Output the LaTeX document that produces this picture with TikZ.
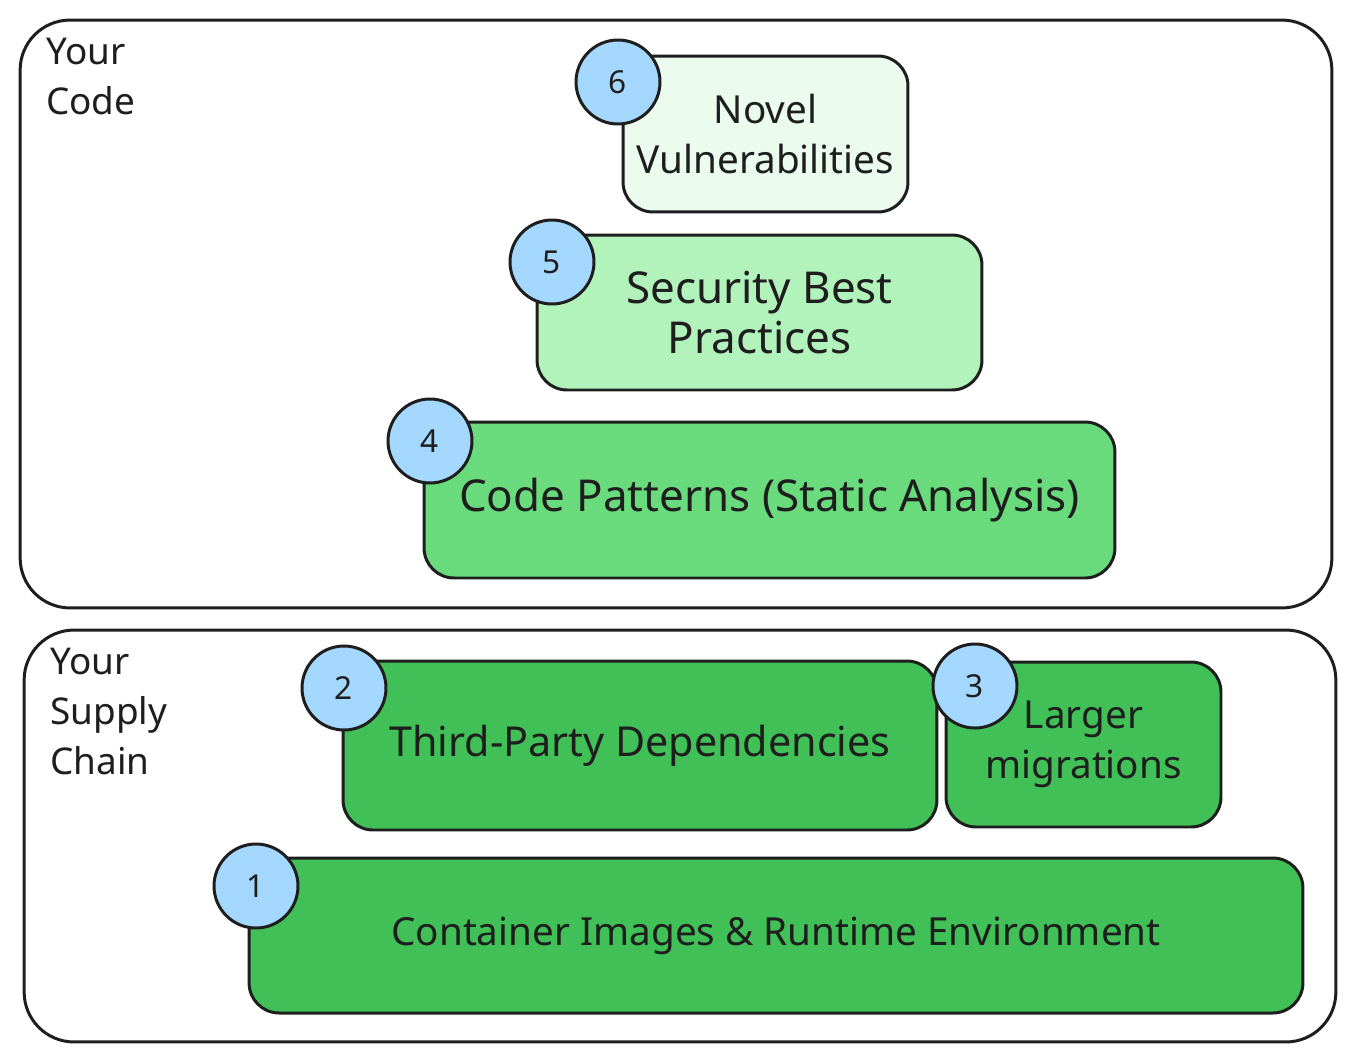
\documentclass[tikz,border=0pt]{standalone}
\usepackage{fontspec}
\setmainfont{Noto Sans}
\definecolor{ink}{HTML}{1E1E1E}
\definecolor{blueC}{HTML}{A5D8FF}
\definecolor{gA}{HTML}{40C057}
\definecolor{gB}{HTML}{69DB7C}
\definecolor{gC}{HTML}{B2F2BB}
\definecolor{gD}{HTML}{EBFBEE}
\begin{document}
\begin{tikzpicture}[x=0.02cm,y=-0.02cm,
  outerbox/.style={draw=ink,line width=1.7pt,rounded corners=1cm,fill=white,inner sep=0pt},
  layerbox/.style={draw=ink,line width=1.7pt,rounded corners=0.6cm,inner sep=0pt,align=center,text=ink,font=\fontsize{23.5}{28.4}\selectfont},
  smalltext/.style={font=\fontsize{22}{28.4}\selectfont},
  bigtext/.style={font=\fontsize{25}{28.4}\selectfont},
  badge/.style={circle,draw=ink,line width=1.7pt,fill=blueC,minimum size=1.68cm,inner sep=0pt,text=ink,font=\fontsize{18}{20}\selectfont},
  sidelabel/.style={anchor=north west,align=left,inner sep=0pt,text=ink,font=\fontsize{21}{28.4}\selectfont}]
\useasboundingbox (0,0) rectangle (1354,1062);
\fill[white] (0,0) rectangle (1354,1062);
% outer containers
\node[outerbox,minimum width=26.24cm,minimum height=11.76cm] (code) at (676,314) {};
\node[outerbox,minimum width=26.24cm,minimum height=8.24cm] (supply) at (680,836) {};
\node[sidelabel] (codelbl) at (46,38) {Your\\Code};
\node[sidelabel] (supplylbl) at (50,648) {Your\\Supply\\Chain};
% layers
\node[layerbox,smalltext,fill=gD,minimum width=5.7cm,minimum height=3.12cm] (l6) at (765.5,134) {Novel\\Vulnerabilities};
\node[layerbox,bigtext,fill=gC,minimum width=8.9cm,minimum height=3.1cm] (l5) at (759.5,312.5) {Security Best\\Practices};
\node[layerbox,bigtext,fill=gB,minimum width=13.82cm,minimum height=3.12cm] (l4) at (769.5,500) {Code Patterns (Static Analysis)};
\node[layerbox,fill=gA,minimum width=11.88cm,minimum height=3.38cm] (l2) at (640,745.5) {Third-Party Dependencies};
\node[layerbox,smalltext,fill=gA,minimum width=5.5cm,minimum height=3.3cm] (l3) at (1083.5,744.5) {Larger\\migrations};
\node[layerbox,smalltext,fill=gA,minimum width=21.08cm,minimum height=3.1cm] (l1) at (776,935.5) {Container Images \& Runtime Environment};
% badges
\node[badge] (b6) at (618,82) {6};
\node[badge] (b5) at (552,262) {5};
\node[badge] (b4) at (430,441) {4};
\node[badge] (b2) at (344,688) {2};
\node[badge] (b3) at (975,686) {3};
\node[badge] (b1) at (256,886) {1};
\end{tikzpicture}
\end{document}
